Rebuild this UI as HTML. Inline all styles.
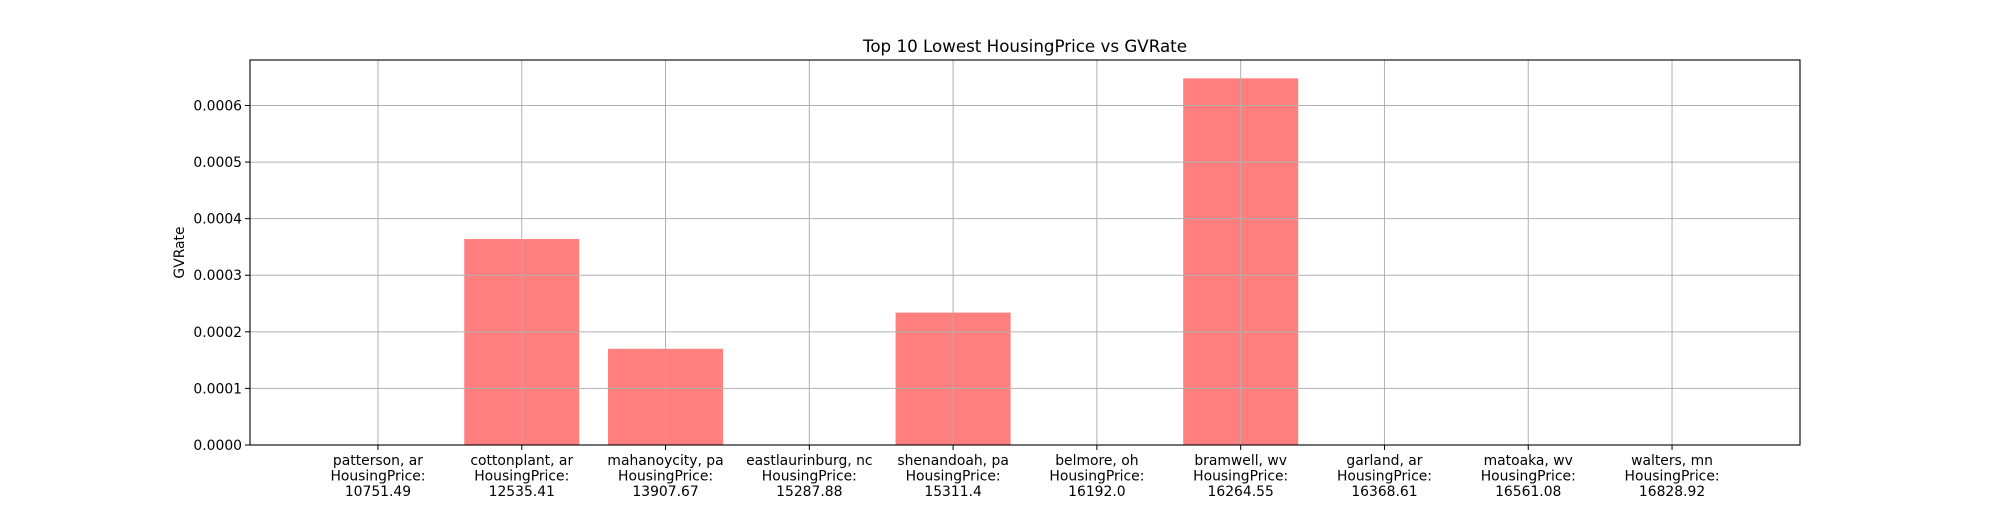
<!DOCTYPE html>
<html><head><meta charset="utf-8"><style>
html,body{margin:0;padding:0;background:#fff}
svg text{font-family:"DejaVu Sans","Liberation Sans",sans-serif;fill:#000}
</style></head><body>
<svg id="chart" width="2000" height="500" xmlns="http://www.w3.org/2000/svg">
<rect width="2000" height="500" fill="#fff"/>
<g id="bars"></g><g id="grid"></g><g id="axes"></g>
<text x="1025" y="52" font-size="16.7" text-anchor="middle">Top 10 Lowest HousingPrice vs GVRate</text>
<text x="0" y="0" font-size="13.9" text-anchor="middle" transform="translate(184,252.5) rotate(-90)">GVRate</text>
</svg>
<script>
const categories=["patterson, ar","cottonplant, ar","mahanoycity, pa","eastlaurinburg, nc","shenandoah, pa","belmore, oh","bramwell, wv","garland, ar","matoaka, wv","walters, mn"];
const prices=["10751.49","12535.41","13907.67","15287.88","15311.4","16192.0","16264.55","16368.61","16561.08","16828.92"];
const values=[0,0.000364,0.00017,0,0.000234,0,0.000648,0,0,0];
const yTicks=[0,0.0001,0.0002,0.0003,0.0004,0.0005,0.0006];
const yTickLabels=["0.0000","0.0001","0.0002","0.0003","0.0004","0.0005","0.0006"];

const L=250,R=1800,T=60,B=445;
const n=categories.length;
const xmin=-0.4-0.05*(n-1+0.8), xmax=n-1+0.4+0.05*(n-1+0.8);
const ymax=Math.max(...values)*1.05;
const xs=v=>L+(v-xmin)/(xmax-xmin)*(R-L);
const ys=v=>B-v/ymax*(B-T);
const NS="http://www.w3.org/2000/svg";
function mk(tag,attrs,parent){const e=document.createElementNS(NS,tag);for(const k in attrs)e.setAttribute(k,attrs[k]);parent.appendChild(e);return e;}
const gb=document.getElementById('bars'),gg=document.getElementById('grid'),ga=document.getElementById('axes');
values.forEach((v,i)=>{
  const r=mk('rect',{x:xs(i-0.4),y:ys(v),width:xs(i+0.4)-xs(i-0.4),height:B-ys(v),fill:'#ff7f7f'},gb);
  
  
});
yTicks.forEach((t,i)=>{
  const y=ys(t);
  if(y<T)return;
  const gl=mk('line',{x1:L,x2:R,y1:y,y2:y,stroke:'#b0b0b0','stroke-width':1},gg);
  
  
  mk('line',{x1:L-5,x2:L,y1:y,y2:y,stroke:'#000','stroke-width':1},ga);
  const tx=mk('text',{x:L-8,y:y+5,'font-size':13.9,'text-anchor':'end'},ga);
  tx.textContent=yTickLabels[i];
  
  
});
categories.forEach((c,i)=>{
  const x=xs(i);
  const gl=mk('line',{x1:x,x2:x,y1:T,y2:B,stroke:'#b0b0b0','stroke-width':1},gg);
  
  
  mk('line',{x1:x,x2:x,y1:B,y2:B+5,stroke:'#000','stroke-width':1},ga);
  const tx=mk('text',{x:x,y:B+20,'font-size':13.9,'text-anchor':'middle'},ga);
  
  
  [c,'HousingPrice:',prices[i]].forEach((s,j)=>{const ts=mk('tspan',{x:x,dy:j?15.6:0},tx);ts.textContent=s;});
});
const fr=mk('rect',{x:L,y:T,width:R-L,height:B-T,fill:'none',stroke:'#000','stroke-width':1.1},ga);


</script>
</body></html>
